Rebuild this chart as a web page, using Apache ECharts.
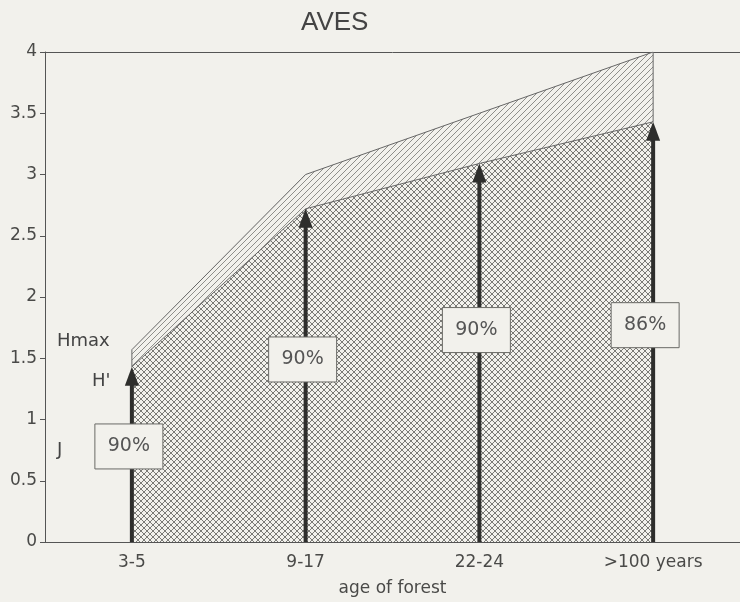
<!DOCTYPE html>
<html>
<head>
<meta charset="utf-8">
<script src="https://cdn.jsdelivr.net/npm/echarts@6/dist/echarts.min.js"></script>
<style>
html,body{margin:0;padding:0;background:#f2f1ec;}
#chart{width:740px;height:602px;}
</style>
</head>
<body>
<div id="chart"></div>
<script>
// ---- data ----
var categories = ['3-5', '9-17', '22-24', '>100 years'];
var hMax = [1.57, 3.0, 3.5, 4.0];
var hPrime = [1.43, 2.72, 3.09, 3.43];
var evenness = ['90%', '90%', '90%', '86%'];
var labelAt = [0.78, 1.49, 1.73, 1.77];
var yTicks = { min: 0, max: 4, step: 0.5 };

var BG = '#f2f1ec';
var FONT = '"Liberation Sans", Arial, sans-serif';
var FONT2 = '"DejaVu Sans", sans-serif';

function makePattern(kind) {
  var s = 6;
  var c = document.createElement('canvas');
  c.width = s; c.height = s;
  var g = c.getContext('2d');
  g.fillStyle = BG;
  g.fillRect(0, 0, s, s);
  g.lineWidth = 1;
  g.strokeStyle = kind === 'cross' ? '#7a7a76' : '#8e8e8a';
  function seg(x1, y1, x2, y2) { g.beginPath(); g.moveTo(x1, y1); g.lineTo(x2, y2); g.stroke(); }
  seg(-1, s + 1, s + 1, -1);
  seg(-1, 1, 1, -1);
  seg(s - 1, s + 1, s + 1, s - 1);
  if (kind === 'cross') {
    seg(-1, -1, s + 1, s + 1);
    seg(s - 1, -1, s + 1, 1);
    seg(-1, s - 1, 1, s + 1);
  }
  return c;
}

var chart = echarts.init(document.getElementById('chart'), null, { renderer: 'canvas' });

var arrowData = categories.map(function (c, i) { return [i, hPrime[i], hMax[i]]; });
var boxData = categories.map(function (c, i) { return [i, labelAt[i], evenness[i]]; });

var option = {
  backgroundColor: BG,
  animation: false,
  title: {
    text: 'AVES',
    left: 296, top: 5,
    textStyle: { fontFamily: FONT, fontSize: 26, fontWeight: 'normal', color: '#444' }
  },
  grid: { left: 45, right: -3, top: 52, bottom: 54, containLabel: false },
  xAxis: [{
    type: 'category',
    data: categories,
    boundaryGap: true,
    axisLine: { lineStyle: { color: '#555', width: 1 } },
    axisTick: { alignWithLabel: true, length: 6, lineStyle: { color: '#555' } },
    axisLabel: { fontFamily: FONT2, fontSize: 17, color: '#4a4a48', margin: 12 },
    name: 'age of forest',
    nameLocation: 'middle',
    nameGap: 38,
    nameTextStyle: { fontFamily: FONT2, fontSize: 17, color: '#4a4a48' }
  }, {
    type: 'category',
    data: categories,
    position: 'top',
    axisLine: { show: true, lineStyle: { color: '#555', width: 1 } },
    axisTick: { show: false },
    axisLabel: { show: false }
  }],
  yAxis: {
    type: 'value',
    min: yTicks.min, max: yTicks.max, interval: yTicks.step,
    axisLine: { show: true, lineStyle: { color: '#555', width: 1 } },
    axisTick: { show: true, length: 5, lineStyle: { color: '#555' } },
    splitLine: { show: false },
    axisLabel: { fontFamily: FONT2, fontSize: 17, color: '#4a4a48', margin: 8 }
  },
  series: [{
    name: 'Hmax',
    type: 'line',
    data: hMax,
    symbol: 'none',
    lineStyle: { color: '#666', width: 1 },
    areaStyle: { color: { image: makePattern('diag'), repeat: 'repeat' }, opacity: 1 },
    z: 2
  }, {
    name: "H'",
    type: 'line',
    data: hPrime,
    symbol: 'none',
    lineStyle: { color: '#666', width: 1 },
    areaStyle: { color: { image: makePattern('cross'), repeat: 'repeat' }, opacity: 1 },
    z: 3
  }, {
    type: 'custom',
    data: arrowData,
    z: 5,
    renderItem: function (params, api) {
      var i = api.value(0);
      var base = api.coord([i, 0]);
      var top = api.coord([i, api.value(1)]);
      var maxP = api.coord([i, api.value(2)]);
      var headH = 19, headW = 7;
      var children = [{
        type: 'line',
        shape: { x1: base[0], y1: base[1], x2: top[0], y2: top[1] + headH - 2 },
        style: { stroke: '#2e2e2c', lineWidth: 4 }
      }, {
        type: 'polygon',
        shape: { points: [[top[0], top[1]], [top[0] - headW, top[1] + headH], [top[0] + headW, top[1] + headH]] },
        style: { fill: '#2e2e2c' }
      }];
      if (i === 0 || i === categories.length - 1) {
        children.push({
          type: 'line',
          shape: { x1: top[0], y1: top[1], x2: maxP[0], y2: maxP[1] },
          style: { stroke: '#666', lineWidth: 1 }
        });
      }
      return { type: 'group', children: children };
    }
  }, {
    type: 'custom',
    data: boxData,
    z: 6,
    renderItem: function (params, api) {
      var i = api.value(0);
      var p = api.coord([i, api.value(1)]);
      var w = 68, h = 45;
      var shift = (i === categories.length - 1) ? -8 : -3;
      var cx = p[0] + shift;
      return {
        type: 'group',
        children: [{
          type: 'rect',
          shape: { x: cx - w / 2, y: p[1] - h / 2, width: w, height: h },
          style: { fill: BG, stroke: '#6a6a66', lineWidth: 1 }
        }, {
          type: 'text',
          style: {
            x: cx, y: p[1], text: evenness[params.dataIndex],
            align: 'center', verticalAlign: 'middle',
            font: '19px ' + FONT2, fill: '#555'
          }
        }]
      };
    }
  }],
  graphic: [
    { type: 'text', left: 57, top: 332, style: { text: 'Hmax', font: '18px ' + FONT2, fill: '#444' } },
    { type: 'text', left: 92, top: 372, style: { text: "H'", font: '18px ' + FONT2, fill: '#444' } },
    { type: 'text', left: 57, top: 441, style: { text: 'J', font: '18px ' + FONT2, fill: '#444' } }
  ]
};
chart.setOption(option);
</script>
</body>
</html>
